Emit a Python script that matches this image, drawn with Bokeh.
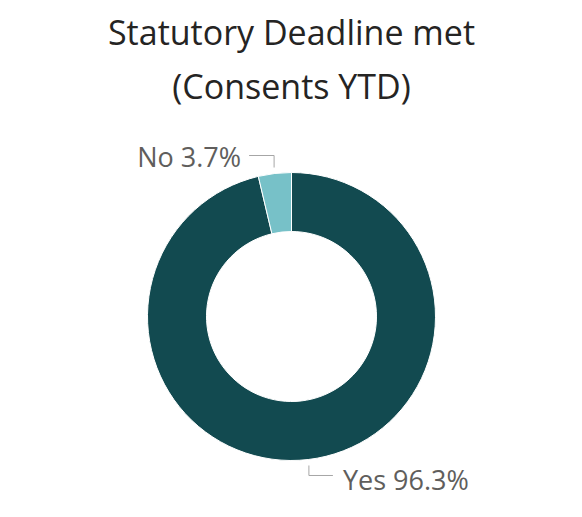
import math
from bokeh.plotting import figure
from bokeh.models import Range1d, ColumnDataSource
from bokeh.core.properties import value
from bokeh.embed import file_html
from bokeh.resources import INLINE

title_lines = ["Statutory Deadline met", "(Consents YTD)"]
categories = ["Yes", "No"]
percents = [96.3, 3.7]
colors = ["#124A50", "#77C1C8"]

W, H = 566, 501
p = figure(width=W, height=H, output_backend="svg", toolbar_location=None,
           x_range=Range1d(0, W), y_range=Range1d(0, H), min_border=0)
p.axis.visible = False
p.grid.visible = False
p.outline_line_color = None
p.background_fill_color = "white"

cx, cy = 291, H - 316
r_out, r_in = 144, 85

# clockwise from 12 o'clock
total = sum(percents)
starts, ends, mids = [], [], []
cum = 0.0
for v in percents:
    a0 = math.pi / 2 - 2 * math.pi * cum / total
    a1 = math.pi / 2 - 2 * math.pi * (cum + v) / total
    starts.append(a1)
    ends.append(a0)
    mids.append((a0 + a1) / 2)
    cum += v

src = ColumnDataSource(dict(start=starts, end=ends, color=colors))
p.annular_wedge(x=cx, y=cy, inner_radius=r_in, outer_radius=r_out,
                start_angle="start", end_angle="end", fill_color="color",
                line_color="white", line_width=1, source=src)

font = value("Open Sans")
# titles
p.text(x=[291], y=[H - 31], text=[title_lines[0]], text_font=font,
       text_font_size="34px", text_color="#252423", text_align="center",
       text_baseline="middle")
p.text(x=[291], y=[H - 85], text=[title_lines[1]], text_font=font,
       text_font_size="34px", text_color="#252423", text_align="center",
       text_baseline="middle")

# labels with leader lines
for cat, v, m in zip(categories, percents, mids):
    x0 = cx + 150 * math.cos(m)
    y0 = cy + 150 * math.sin(m)
    label = f"{cat} {v}%"
    if math.sin(m) > 0:
        y1 = y0 + 12
        x2 = x0 - 25
        p.line([x0, x0, x2], [y0, y1, y1], line_color="#A6A6A6", line_width=1)
        p.text(x=[x2 - 8], y=[y1 - 1], text=[label], text_font=font,
               text_font_size="27px", text_color="#605E5C", text_align="right",
               text_baseline="middle")
    else:
        y1 = y0 - 10
        x2 = x0 + 24
        p.line([x0, x0, x2], [y0, y1, y1], line_color="#A6A6A6", line_width=1)
        p.text(x=[x2 + 10], y=[y1 - 4], text=[label], text_font=font,
               text_font_size="27px", text_color="#605E5C", text_align="left",
               text_baseline="middle")

open("out.html", "w").write(file_html(p, INLINE))
